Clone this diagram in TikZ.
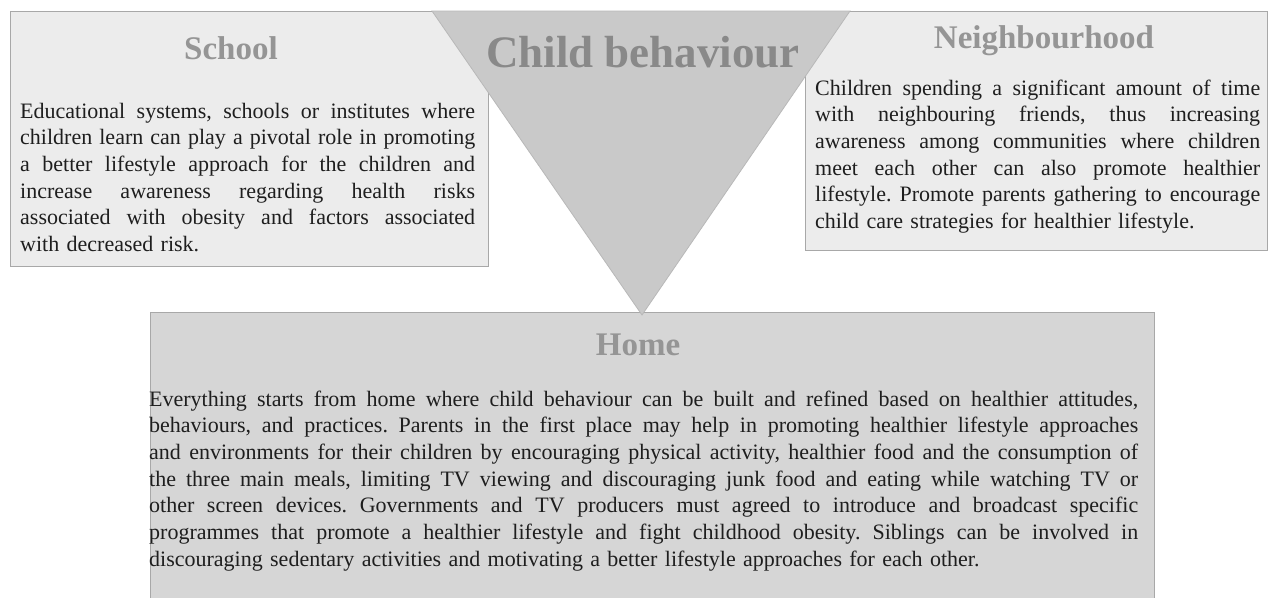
\documentclass[tikz,border=0pt]{standalone}
\usepackage{fontspec}
\setmainfont{Liberation Serif}
\definecolor{boxline}{HTML}{A8A8A8}
\definecolor{boxlight}{HTML}{ECECEC}
\definecolor{homefill}{HTML}{D6D6D6}
\definecolor{trifill}{HTML}{C9C9C9}
\definecolor{triline}{HTML}{B8B8B8}
\definecolor{titlegray}{HTML}{959595}
\definecolor{bodytext}{HTML}{1E1E1E}
\newcommand\jl[1]{\hbox to \hsize{\spaceskip=0pt\xspaceskip=0pt\frenchspacing #1}}
\newcommand\lastln[1]{\hbox to \hsize{\frenchspacing #1\hfil}}
\begin{document}
\begin{tikzpicture}[x=1pt,y=-1pt,
  box/.style={draw=boxline, line width=1pt, inner sep=0pt, anchor=north west},
  titletext/.style={anchor=base, inner sep=0pt, text=titlegray, font=\fontsize{33}{36}\selectfont\bfseries},
  bodypara/.style={anchor=base west, inner sep=0pt, text=bodytext, font=\fontsize{22}{26.7}\selectfont\frenchspacing}
]
\useasboundingbox[fill=white] (0,0) rectangle (1268,597);
% side boxes
\node[box, fill=boxlight, minimum width=478pt, minimum height=255pt] (school) at (10,11) {};
\node[box, fill=boxlight, minimum width=462pt, minimum height=239pt] (neigh) at (805,11) {};
% home box (open at the bottom)
\node[box, draw=none, fill=homefill, minimum width=1003pt, minimum height=290pt] (home) at (150,312) {};
\draw[boxline, line width=1pt] (home.south west) -- (home.north west) -- (home.north east) -- (home.south east);
% central triangle
\coordinate (tl) at (432,11);
\coordinate (tr) at (850,11);
\coordinate (apex) at (642,315);
\filldraw[fill=trifill, draw=triline, line width=0.8pt, line join=miter] (tl) -- (tr) -- (apex) -- cycle;
% titles
\node[titletext, font=\fontsize{45}{48}\selectfont\bfseries, text=titlegray!92!black] (childT) at (643,67) {Child behaviour};
\node[titletext] (schoolT) at (231,59) {School};
\node[titletext] (neighT) at (1044,48) {Neighbourhood};
\node[titletext] (homeT) at (638,355) {Home};
% body texts
\node[bodypara, text width=455pt] (schoolB) at (20,118) {%
\jl{Educational systems, schools or institutes where}
\jl{children learn can play a pivotal role in promoting}
\jl{a better lifestyle approach for the children and}
\jl{increase awareness regarding health risks}
\jl{associated with obesity and factors associated}
\lastln{with decreased risk.}};
\node[bodypara, text width=445pt] (neighB) at (815,95) {%
\jl{Children spending a significant amount of time}
\jl{with neighbouring friends, thus increasing}
\jl{awareness among communities where children}
\jl{meet each other can also promote healthier}
\jl{lifestyle. Promote parents gathering to encourage}
\lastln{child care strategies for healthier lifestyle.}};
\node[bodypara, text width=989pt] (homeB) at (149,406) {%
\jl{Everything starts from home where child behaviour can be built and refined based on healthier attitudes,}
\jl{behaviours, and practices. Parents in the first place may help in promoting healthier lifestyle approaches}
\jl{and environments for their children by encouraging physical activity, healthier food and the consumption of}
\jl{the three main meals, limiting TV viewing and discouraging junk food and eating while watching TV or}
\jl{other screen devices. Governments and TV producers must agreed to introduce and broadcast specific}
\jl{programmes that promote a healthier lifestyle and fight childhood obesity. Siblings can be involved in}
\lastln{discouraging sedentary activities and motivating a better lifestyle approaches for each other.}};
\end{tikzpicture}
\end{document}
